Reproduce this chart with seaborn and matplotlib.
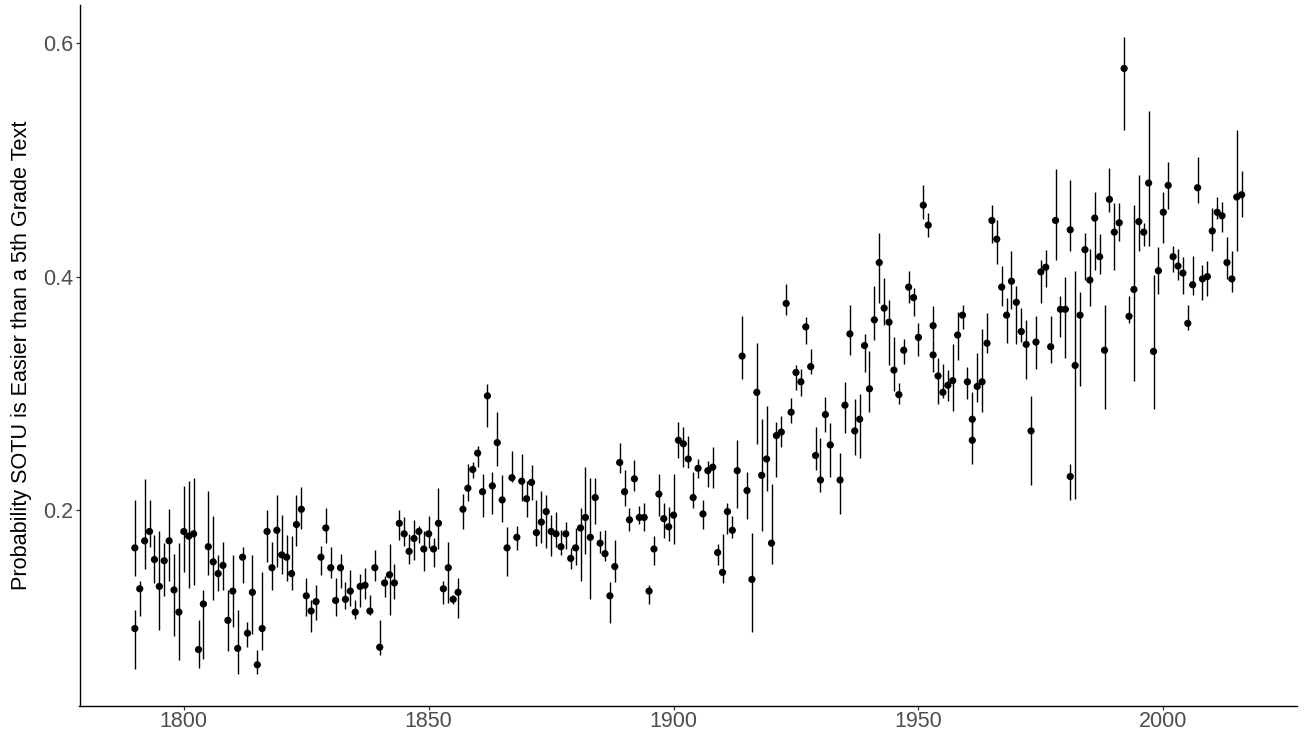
import matplotlib
matplotlib.use("Agg")
import matplotlib.pyplot as plt
import numpy as np
import pandas as pd
import seaborn as sns

years = [1790, 1790, 1791, 1792, 1793, 1794, 1795, 1796, 1797, 1798, 1799,
         1800, 1801, 1802, 1803, 1804, 1805, 1806, 1807, 1808, 1809,
         1810, 1811, 1812, 1813, 1814, 1815, 1816, 1817, 1818, 1819,
         1820, 1821, 1822, 1823, 1824, 1825, 1826, 1827, 1828, 1829,
         1830, 1831, 1832, 1833, 1834, 1835, 1836, 1837, 1838, 1839,
         1840, 1841, 1842, 1843, 1844, 1845, 1846, 1847, 1848, 1849,
         1850, 1851, 1852, 1853, 1854, 1855, 1856, 1857, 1858, 1859,
         1860, 1861, 1862, 1863, 1864, 1865, 1866, 1867, 1868, 1869,
         1870, 1871, 1872, 1873, 1874, 1875, 1876, 1877, 1878, 1879,
         1880, 1881, 1882, 1883, 1884, 1885, 1886, 1887, 1888, 1889,
         1890, 1891, 1892, 1893, 1894, 1895, 1896, 1897, 1898, 1899,
         1900, 1901, 1902, 1903, 1904, 1905, 1906, 1907, 1908, 1909,
         1910, 1911, 1912, 1913, 1914, 1915, 1916, 1917, 1918, 1919,
         1920, 1921, 1922, 1923, 1924, 1925, 1926, 1927, 1928, 1929,
         1930, 1931, 1932, 1934, 1935, 1936, 1937, 1938, 1939,
         1940, 1941, 1942, 1943, 1944, 1945, 1946, 1947, 1948, 1949,
         1950, 1951, 1952, 1953, 1953, 1954, 1955, 1956, 1957, 1958, 1959,
         1960, 1961, 1961, 1962, 1963, 1964, 1965, 1966, 1967, 1968, 1969,
         1970, 1971, 1972, 1973, 1974, 1975, 1976, 1977, 1978, 1979,
         1980, 1981, 1981, 1982, 1983, 1984, 1985, 1986, 1987, 1988, 1989,
         1990, 1991, 1992, 1993, 1994, 1995, 1996, 1997, 1998, 1999,
         2000, 2001, 2002, 2003, 2004, 2005, 2006, 2007, 2008, 2009,
         2010, 2011, 2012, 2013, 2014, 2015, 2016]

estimate = [0.168, 0.099, 0.133, 0.174, 0.182, 0.158, 0.135, 0.157, 0.174, 0.132, 0.113,
            0.182, 0.178, 0.180, 0.081, 0.120, 0.169, 0.156, 0.146, 0.153, 0.106,
            0.131, 0.082, 0.160, 0.095, 0.130, 0.068, 0.099, 0.182, 0.151, 0.183,
            0.162, 0.160, 0.146, 0.188, 0.201, 0.127, 0.114, 0.122, 0.160, 0.185,
            0.151, 0.123, 0.151, 0.124, 0.131, 0.113, 0.135, 0.136, 0.114, 0.151,
            0.083, 0.138, 0.145, 0.138, 0.189, 0.180, 0.165, 0.176, 0.182, 0.167,
            0.180, 0.167, 0.189, 0.133, 0.151, 0.124, 0.130, 0.201, 0.219, 0.235,
            0.249, 0.216, 0.298, 0.221, 0.258, 0.209, 0.168, 0.228, 0.177, 0.225,
            0.210, 0.224, 0.181, 0.190, 0.199, 0.182, 0.180, 0.169, 0.180, 0.159,
            0.168, 0.185, 0.194, 0.177, 0.211, 0.172, 0.163, 0.127, 0.152, 0.241,
            0.216, 0.192, 0.227, 0.194, 0.194, 0.131, 0.167, 0.214, 0.193, 0.186,
            0.196, 0.260, 0.257, 0.244, 0.211, 0.236, 0.197, 0.234, 0.237, 0.164,
            0.147, 0.199, 0.183, 0.234, 0.332, 0.217, 0.141, 0.301, 0.230, 0.244,
            0.172, 0.264, 0.267, 0.377, 0.284, 0.318, 0.310, 0.357, 0.323, 0.247,
            0.226, 0.282, 0.256, 0.226, 0.290, 0.351, 0.268, 0.278, 0.341,
            0.304, 0.363, 0.412, 0.373, 0.361, 0.320, 0.299, 0.337, 0.391, 0.382,
            0.348, 0.461, 0.444, 0.358, 0.333, 0.315, 0.301, 0.307, 0.311, 0.350, 0.367,
            0.310, 0.278, 0.260, 0.306, 0.310, 0.343, 0.448, 0.432, 0.391, 0.367, 0.396,
            0.378, 0.353, 0.342, 0.268, 0.344, 0.404, 0.408, 0.340, 0.448, 0.372,
            0.372, 0.440, 0.229, 0.324, 0.367, 0.423, 0.397, 0.450, 0.417, 0.337, 0.466,
            0.438, 0.446, 0.578, 0.366, 0.389, 0.447, 0.438, 0.480, 0.336, 0.405,
            0.455, 0.478, 0.417, 0.409, 0.403, 0.360, 0.393, 0.476, 0.398, 0.400,
            0.439, 0.455, 0.452, 0.412, 0.398, 0.468, 0.470]

lower = [0.144, 0.064, 0.110, 0.150, 0.169, 0.138, 0.098, 0.127, 0.140, 0.093, 0.072,
         0.147, 0.134, 0.136, 0.065, 0.073, 0.145, 0.123, 0.131, 0.132, 0.080,
         0.100, 0.060, 0.138, 0.083, 0.094, 0.060, 0.081, 0.156, 0.132, 0.152,
         0.146, 0.140, 0.132, 0.170, 0.184, 0.110, 0.096, 0.106, 0.145, 0.172,
         0.142, 0.110, 0.134, 0.116, 0.118, 0.107, 0.117, 0.124, 0.111, 0.140,
         0.076, 0.126, 0.111, 0.124, 0.175, 0.170, 0.154, 0.158, 0.172, 0.148,
         0.168, 0.152, 0.167, 0.120, 0.121, 0.120, 0.108, 0.184, 0.208, 0.228,
         0.237, 0.194, 0.271, 0.197, 0.238, 0.190, 0.144, 0.224, 0.166, 0.208,
         0.194, 0.209, 0.170, 0.172, 0.168, 0.161, 0.169, 0.162, 0.167, 0.150,
         0.153, 0.140, 0.163, 0.124, 0.188, 0.164, 0.157, 0.104, 0.139, 0.232,
         0.204, 0.182, 0.217, 0.188, 0.182, 0.120, 0.153, 0.195, 0.176, 0.174,
         0.171, 0.245, 0.237, 0.236, 0.202, 0.228, 0.184, 0.220, 0.219, 0.153,
         0.138, 0.180, 0.176, 0.202, 0.312, 0.193, 0.096, 0.257, 0.182, 0.217,
         0.154, 0.229, 0.254, 0.367, 0.275, 0.303, 0.298, 0.342, 0.317, 0.235,
         0.216, 0.267, 0.229, 0.197, 0.266, 0.333, 0.247, 0.245, 0.318,
         0.284, 0.346, 0.377, 0.359, 0.324, 0.302, 0.291, 0.325, 0.377, 0.366,
         0.332, 0.449, 0.434, 0.346, 0.318, 0.291, 0.296, 0.294, 0.285, 0.329, 0.355,
         0.295, 0.260, 0.240, 0.293, 0.284, 0.335, 0.429, 0.411, 0.375, 0.343, 0.372,
         0.342, 0.344, 0.312, 0.222, 0.321, 0.377, 0.391, 0.326, 0.414, 0.348,
         0.330, 0.422, 0.209, 0.210, 0.306, 0.397, 0.375, 0.406, 0.402, 0.287, 0.455,
         0.406, 0.430, 0.525, 0.360, 0.311, 0.422, 0.426, 0.426, 0.287, 0.385,
         0.429, 0.458, 0.404, 0.397, 0.385, 0.354, 0.384, 0.463, 0.380, 0.383,
         0.422, 0.449, 0.438, 0.398, 0.387, 0.422, 0.451]

upper = [0.209, 0.115, 0.140, 0.227, 0.209, 0.179, 0.182, 0.172, 0.201, 0.163, 0.172,
         0.221, 0.225, 0.228, 0.106, 0.132, 0.217, 0.195, 0.162, 0.173, 0.132,
         0.162, 0.115, 0.169, 0.105, 0.162, 0.081, 0.147, 0.200, 0.173, 0.213,
         0.196, 0.179, 0.178, 0.213, 0.220, 0.142, 0.123, 0.136, 0.170, 0.202,
         0.169, 0.142, 0.163, 0.139, 0.149, 0.123, 0.146, 0.151, 0.128, 0.166,
         0.106, 0.144, 0.171, 0.154, 0.200, 0.194, 0.180, 0.192, 0.187, 0.182,
         0.195, 0.176, 0.219, 0.140, 0.173, 0.128, 0.142, 0.214, 0.240, 0.241,
         0.255, 0.231, 0.308, 0.233, 0.284, 0.230, 0.186, 0.251, 0.187, 0.248,
         0.225, 0.239, 0.209, 0.217, 0.213, 0.196, 0.199, 0.183, 0.190, 0.168,
         0.185, 0.202, 0.237, 0.228, 0.228, 0.182, 0.183, 0.139, 0.175, 0.258,
         0.235, 0.202, 0.243, 0.204, 0.206, 0.136, 0.178, 0.231, 0.206, 0.203,
         0.231, 0.276, 0.271, 0.264, 0.233, 0.244, 0.209, 0.242, 0.254, 0.171,
         0.180, 0.206, 0.195, 0.260, 0.366, 0.233, 0.181, 0.343, 0.278, 0.289,
         0.223, 0.276, 0.281, 0.394, 0.296, 0.324, 0.321, 0.365, 0.338, 0.271,
         0.262, 0.297, 0.275, 0.249, 0.310, 0.376, 0.295, 0.300, 0.351,
         0.336, 0.392, 0.437, 0.399, 0.380, 0.348, 0.309, 0.347, 0.405, 0.390,
         0.360, 0.478, 0.454, 0.375, 0.346, 0.330, 0.325, 0.320, 0.342, 0.370, 0.376,
         0.323, 0.301, 0.278, 0.335, 0.355, 0.369, 0.461, 0.448, 0.409, 0.382, 0.422,
         0.392, 0.373, 0.363, 0.298, 0.366, 0.414, 0.423, 0.366, 0.492, 0.383,
         0.400, 0.483, 0.240, 0.405, 0.387, 0.437, 0.424, 0.472, 0.436, 0.376, 0.493,
         0.463, 0.463, 0.605, 0.383, 0.461, 0.487, 0.446, 0.542, 0.401, 0.425,
         0.472, 0.498, 0.426, 0.424, 0.417, 0.376, 0.418, 0.502, 0.410, 0.413,
         0.459, 0.468, 0.464, 0.434, 0.422, 0.525, 0.490]

x_ticks = [1800, 1850, 1900, 1950, 2000]
y_ticks = [0.2, 0.4, 0.6]
y_title = "Probability SOTU is Easier than a 5th Grade Text"

df = pd.DataFrame({"year": years, "estimate": estimate,
                   "lower": lower, "upper": upper})

sns.set_theme(style="ticks")
plt.rcParams["font.family"] = ["Liberation Sans", "DejaVu Sans"]

W, H = 1304, 736
fig = plt.figure(figsize=(W / 100, H / 100), dpi=100)
left_px, right_px, top_px, bottom_px = 79.5, 1297.0, 5.0, 706.0
ax = fig.add_axes([left_px / W, 1 - bottom_px / H,
                   (right_px - left_px) / W, (bottom_px - top_px) / H])

ax.vlines(df["year"], df["lower"], df["upper"], color="black",
          linewidth=1.0, zorder=2)
sns.scatterplot(data=df, x="year", y="estimate", color="black", s=27,
                edgecolor="none", linewidth=0, ax=ax, zorder=3, legend=False)

xmin, xmax = df["year"].min(), df["year"].max()
ymin, ymax = df["lower"].min(), df["upper"].max()
ax.set_xlim(xmin - 0.05 * (xmax - xmin), xmax + 0.05 * (xmax - xmin))
ax.set_ylim(ymin - 0.05 * (ymax - ymin), ymax + 0.05 * (ymax - ymin))

ax.set_xticks(x_ticks)
ax.set_xticklabels([str(t) for t in x_ticks])
ax.set_yticks(y_ticks)
ax.set_yticklabels([f"{t:.1f}" for t in y_ticks])

for s in ["top", "right"]:
    ax.spines[s].set_visible(False)
for s in ["left", "bottom"]:
    ax.spines[s].set_color("black")
    ax.spines[s].set_linewidth(1.0)

ax.tick_params(axis="both", which="major", length=2.9, width=0.9,
               color="#333333", labelcolor="#4D4D4D", labelsize=15.5)
ax.tick_params(axis="y", pad=1.5)
ax.tick_params(axis="x", pad=1.0)
ax.grid(False)
ax.set_xlabel("")
ax.set_ylabel(y_title, fontsize=15.6, color="black")
ax.yaxis.set_label_coords(-(left_px - 32.0) / (right_px - left_px), 0.5)

fig.savefig("out.png", dpi=100)
